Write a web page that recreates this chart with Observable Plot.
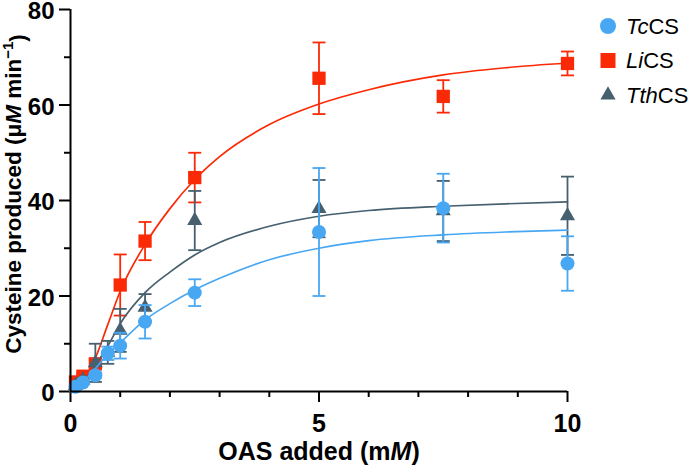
<!DOCTYPE html>
<html>
<head>
<meta charset="utf-8">
<script src="https://cdn.jsdelivr.net/npm/d3@7"></script>
<script src="https://cdn.jsdelivr.net/npm/@observablehq/plot@0.6"></script>
<style>
  html, body { margin: 0; padding: 0; background: #fff; }
  #chart { position: relative; width: 692px; height: 466px; }
</style>
</head>
<body>
<div id="chart"></div>
<script>
// ---------- data ----------
const seriesNames = ["TcCS", "LiCS", "TthCS"];

const tcX    = [0.1, 0.25, 0.5, 0.75, 1, 1.5, 2.5, 5, 7.5, 10];
const tcMean = [1.0, 1.9, 3.4, 8.0, 9.6, 14.6, 20.7, 33.4, 38.4, 26.8];
const tcErr  = [0.3, 0.4, 0.6, 1.4, 2.7, 3.5, 2.8, 13.4, 7.2, 5.7];

const liX    = [0.1, 0.25, 0.5, 1, 1.5, 2.5, 5, 7.5, 10];
const liMean = [2.0, 3.2, 5.8, 22.3, 31.5, 44.8, 65.6, 61.8, 68.7];
const liErr  = [0.4, 0.5, 0.8, 6.4, 4.0, 5.2, 7.5, 3.4, 2.5];

const tthX    = [0.1, 0.25, 0.5, 0.75, 1, 1.5, 2.5, 5, 7.5, 10];
const tthMean = [1.2, 2.4, 6.0, 8.2, 12.8, 17.6, 35.8, 38.3, 37.8, 36.8];
const tthErr  = [0.3, 0.5, 4.0, 2.4, 4.5, 2.8, 6.2, 6.0, 6.3, 8.2];

// fitted curves
const fitX   = [0, 0.25, 0.5, 0.75, 1, 1.5, 2, 2.5, 3, 4, 5, 6, 7.5, 8.75, 10];
const fitLi  = [0, 2.3, 7.0, 14.0, 21.0, 30.8, 38.3, 44.4, 49.2, 55.9, 60.2, 63.2, 66.3, 67.8, 68.8];
const fitTth = [0, 2.0, 5.5, 9.5, 14.2, 20.7, 25.0, 28.6, 31.2, 34.6, 36.7, 37.9, 38.8, 39.3, 39.7];
const fitTc  = [0, 2.0, 4.8, 7.8, 10.2, 15.0, 18.4, 21.3, 23.7, 27.6, 30.0, 31.6, 32.8, 33.4, 33.8];

const xMajorTicks = [0, 5, 10];
const xMinorTicks = [1, 2, 3, 4, 6, 7, 8, 9];
const yMajorTicks = [0, 20, 40, 60, 80];
const yMinorTicks = [10, 30, 50, 70];

// ---------- styling ----------
const colors = { TcCS: "#48a7f2", LiCS: "#fb2a06", TthCS: "#46606f" };
const FONT = "'Liberation Sans', Arial, Helvetica, sans-serif";

const rows = (xs, ms, es) => xs.map((x, i) => ({ x, y: ms[i], e: es[i] }));
const fit  = (ys) => fitX.map((x, i) => ({ x, y: ys[i] }));

const tcRows = rows(tcX, tcMean, tcErr);
const liRows = rows(liX, liMean, liErr);
const tthRows = rows(tthX, tthMean, tthErr);

const capSymbol = {
  draw(context, size) {
    const w = Math.sqrt(size / Math.PI);
    context.moveTo(-w, 0);
    context.lineTo(w, 0);
  }
};

function seriesMarks(data, curve, color, symbol, r) {
  return [
    Plot.line(curve, { x: "x", y: "y", stroke: color, strokeWidth: 1.7, curve: "monotone-x" }),
    Plot.ruleX(data, { x: "x", y1: d => d.y - d.e, y2: d => d.y + d.e, stroke: color, strokeWidth: 1.8 }),
    Plot.dot(data, { x: "x", y: d => d.y + d.e, symbol: capSymbol, r: 6.5, stroke: color, strokeWidth: 1.8, fill: "none" }),
    Plot.dot(data, { x: "x", y: d => d.y - d.e, symbol: capSymbol, r: 6.5, stroke: color, strokeWidth: 1.8, fill: "none" }),
    Plot.dot(data, { x: "x", y: "y", symbol, r, fill: color, stroke: "none" })
  ];
}

const plot = Plot.plot({
  width: 692,
  height: 466,
  marginLeft: 70,
  marginRight: 125,
  marginTop: 9,
  marginBottom: 75,
  style: { fontFamily: FONT, fontSize: "22px", fontWeight: "bold", color: "#000", background: "#fff", overflow: "visible" },
  x: { domain: [0, 10] },
  y: { domain: [0, 80] },
  marks: [
    Plot.axisX({ ticks: xMinorTicks, tickSize: 6, tickFormat: () => "", strokeWidth: 2, label: null }),
    Plot.axisX({ ticks: xMajorTicks, tickSize: 11, tickPadding: 12, strokeWidth: 2, label: null }),
    Plot.axisY({ ticks: yMinorTicks, tickSize: 6, tickFormat: () => "", strokeWidth: 2, label: null }),
    Plot.axisY({ ticks: yMajorTicks, tickSize: 11, tickPadding: 5, strokeWidth: 2, label: null }),
    ...seriesMarks(liRows, fit(fitLi), colors.LiCS, "square", 7.5),
    ...seriesMarks(tthRows, fit(fitTth), colors.TthCS, "triangle", 5.6),
    ...seriesMarks(tcRows, fit(fitTc), colors.TcCS, "circle", 7),
    Plot.ruleX([0], { stroke: "#000", strokeWidth: 2 }),
    Plot.ruleY([0], { stroke: "#000", strokeWidth: 2 })
  ]
});

document.getElementById("chart").appendChild(plot);

const svg = d3.select(plot);

// tick label sizes
svg.selectAll('g[aria-label="x-axis tick label"] text')
  .style("font-size", "25px").style("font-weight", "bold").style("font-family", FONT);
svg.selectAll('g[aria-label="y-axis tick label"] text')
  .style("font-size", "24px").style("font-weight", "bold").style("font-family", FONT)
  .attr("dy", "0.4em").attr("y", null);

// ---------- axis titles and legend ----------
const xt = svg.append("text")
  .attr("x", 319).attr("y", 460)
  .attr("text-anchor", "middle")
  .style("font-family", FONT).style("font-size", "25px").style("font-weight", "bold")
  .attr("fill", "#000");
xt.append("tspan").text("OAS added (m");
xt.append("tspan").style("font-style", "italic").text("M");
xt.append("tspan").text(")");

const yt = svg.append("text")
  .attr("transform", "translate(21,194) rotate(-90)")
  .attr("text-anchor", "middle")
  .style("font-family", FONT).style("font-size", "22.5px").style("font-weight", "bold")
  .attr("fill", "#000");
yt.append("tspan").text("Cysteine produced (μ");
yt.append("tspan").style("font-style", "italic").text("M");
yt.append("tspan").text(" min");
yt.append("tspan").attr("dy", "-0.55em").style("font-size", "15px").text("−1");
yt.append("tspan").attr("dy", "0.55em").text(")");

const legendItems = [
  { name: "TcCS", it: "Tc", rest: "CS", sym: d3.symbolCircle, size: Math.PI * 8 * 8 },
  { name: "LiCS", it: "Li", rest: "CS", sym: d3.symbolSquare, size: 15 * 15 },
  { name: "TthCS", it: "Tth", rest: "CS", sym: d3.symbolTriangle, size: 100 }
];
const lg = svg.append("g");
legendItems.forEach((d, i) => {
  const cy = 26 + i * 34.5;
  lg.append("path")
    .attr("d", d3.symbol(d.sym, d.size)())
    .attr("transform", `translate(608,${cy})`)
    .attr("fill", colors[d.name]);
  const t = lg.append("text")
    .attr("x", 626).attr("y", cy)
    .attr("dy", "0.36em")
    .attr("text-anchor", "start")
    .style("font-family", FONT).style("font-size", "22px").style("font-weight", "normal")
    .attr("fill", "#000");
  t.append("tspan").style("font-style", "italic").text(d.it);
  t.append("tspan").text(d.rest);
});
</script>
</body>
</html>
